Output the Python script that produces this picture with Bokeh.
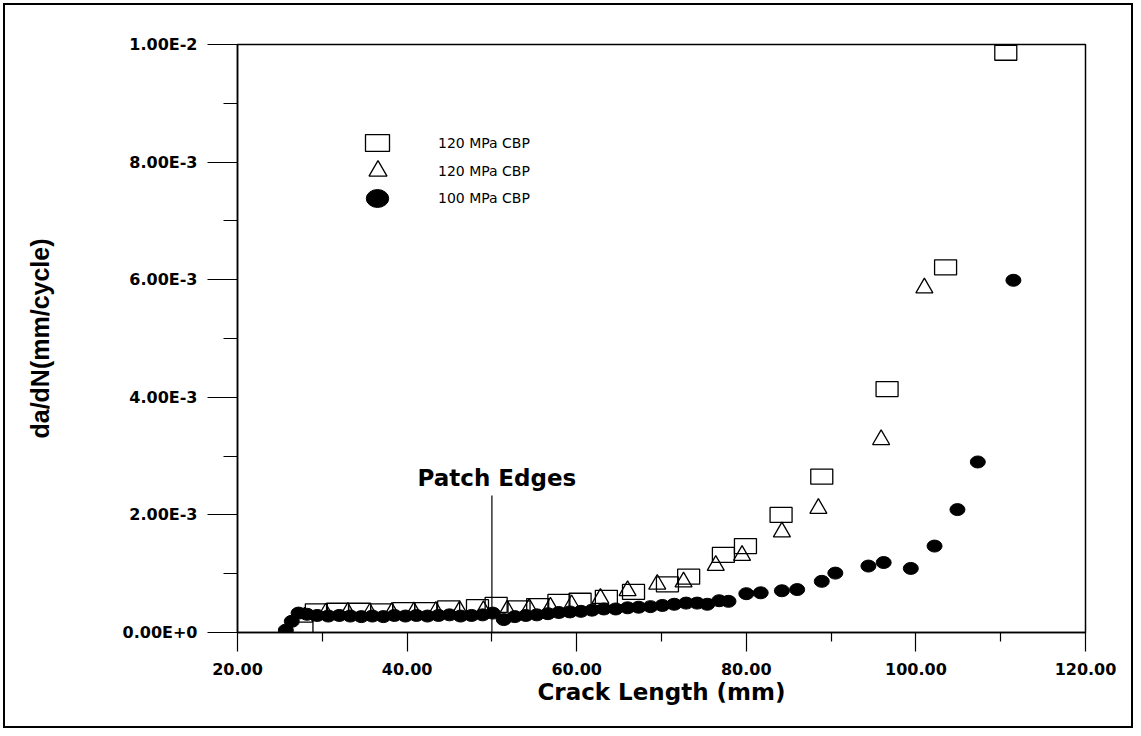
from bokeh.plotting import figure
from bokeh.models import Range1d, FixedTicker, Legend, LegendItem, Label
from bokeh.embed import file_html
from bokeh.resources import INLINE

# ---------------- data ----------------
series_labels = ["120 MPa CBP", "120 MPa CBP", "100 MPa CBP"]

sq_x = [27.6, 29.3, 31.8, 34.4, 37.0, 39.6, 42.2, 44.9, 48.3, 50.5, 53.2, 55.4, 57.9,
        60.4, 63.5, 66.7, 70.7, 73.2, 77.3, 79.9, 84.1, 88.9, 96.6, 103.5, 110.6]
sq_y = [0.12e-3, 0.36e-3, 0.37e-3, 0.37e-3, 0.36e-3, 0.38e-3, 0.38e-3, 0.41e-3, 0.43e-3,
        0.47e-3, 0.41e-3, 0.45e-3, 0.52e-3, 0.54e-3, 0.59e-3, 0.69e-3, 0.82e-3, 0.95e-3,
        1.32e-3, 1.47e-3, 2.00e-3, 2.65e-3, 4.14e-3, 6.21e-3, 9.86e-3]

tri_x = [27.9, 30.4, 33.0, 35.6, 38.2, 40.8, 43.4, 46.2, 49.0, 51.8, 54.4, 56.9, 59.4,
         62.8, 66.0, 69.5, 72.6, 76.4, 79.5, 84.2, 88.5, 95.9, 101.0]
tri_y = [0.26e-3, 0.33e-3, 0.34e-3, 0.33e-3, 0.34e-3, 0.35e-3, 0.36e-3, 0.37e-3, 0.37e-3,
         0.38e-3, 0.41e-3, 0.43e-3, 0.47e-3, 0.58e-3, 0.71e-3, 0.82e-3, 0.86e-3, 1.14e-3,
         1.31e-3, 1.71e-3, 2.11e-3, 3.28e-3, 5.86e-3]

cir_x = [25.7, 26.4, 27.2, 28.2, 29.4, 30.7, 32.0, 33.3, 34.6, 35.9, 37.2, 38.5, 39.8,
         41.1, 42.4, 43.7, 45.0, 46.3, 47.6, 48.9, 50.1, 51.4, 52.7, 54.0, 55.3, 56.6,
         57.9, 59.2, 60.5, 61.8, 63.2, 64.6, 66.0, 67.3, 68.7, 70.1, 71.5, 72.9, 74.2,
         75.4, 76.8, 77.9, 80.0, 81.7, 84.2, 86.0, 88.9, 90.5, 94.4, 96.2, 99.4, 102.2,
         104.9, 107.3, 111.5]
cir_y = [0.04e-3, 0.19e-3, 0.33e-3, 0.31e-3, 0.29e-3, 0.28e-3, 0.29e-3, 0.28e-3, 0.27e-3,
         0.28e-3, 0.27e-3, 0.29e-3, 0.28e-3, 0.29e-3, 0.28e-3, 0.29e-3, 0.30e-3, 0.28e-3,
         0.29e-3, 0.30e-3, 0.33e-3, 0.22e-3, 0.27e-3, 0.29e-3, 0.30e-3, 0.32e-3, 0.34e-3,
         0.35e-3, 0.36e-3, 0.38e-3, 0.40e-3, 0.40e-3, 0.42e-3, 0.43e-3, 0.44e-3, 0.46e-3,
         0.48e-3, 0.50e-3, 0.50e-3, 0.48e-3, 0.54e-3, 0.53e-3, 0.66e-3, 0.675e-3, 0.71e-3,
         0.73e-3, 0.87e-3, 1.01e-3, 1.13e-3, 1.19e-3, 1.09e-3, 1.47e-3, 2.09e-3, 2.90e-3,
         5.99e-3]

x_ticks = [20, 40, 60, 80, 100, 120]
x_tick_labels = ["20.00", "40.00", "60.00", "80.00", "100.00", "120.00"]
x_minor = [30, 50, 70, 90, 110]
y_ticks = [0, 0.002, 0.004, 0.006, 0.008, 0.01]
y_tick_labels = ["0.00E+0", "2.00E-3", "4.00E-3", "6.00E-3", "8.00E-3", "1.00E-2"]
y_minor = [0.001, 0.003, 0.005, 0.007, 0.009]

patch_x = [50]
patch_y0 = [0.0]
patch_y1 = [2.33e-3]
patch_label = "Patch Edges"
patch_label_y = 2.62e-3

x_title = "Crack Length (mm)"
y_title = "da/dN(mm/cycle)"

# ---------------- figure ----------------
p = figure(width=1130, height=725, x_range=Range1d(20, 120), y_range=Range1d(0, 0.01),
           output_backend="svg", toolbar_location=None,
           min_border_left=232, min_border_right=50, min_border_top=39, min_border_bottom=98)
p.styles = {"border": "2px solid black", "margin": "3px"}
p.xgrid.visible = False
p.ygrid.visible = False
p.outline_line_color = "black"
p.outline_line_width = 1.5
p.background_fill_color = "white"
p.border_fill_color = "white"

tick_font = "DejaVu Sans"

p.xaxis.ticker = FixedTicker(ticks=x_ticks, minor_ticks=x_minor)
p.xaxis.major_label_overrides = dict(zip(x_ticks, x_tick_labels))
p.yaxis.ticker = FixedTicker(ticks=y_ticks, minor_ticks=y_minor)
p.yaxis.major_label_overrides = dict(zip(y_ticks, y_tick_labels))

for ax in (p.xaxis[0], p.yaxis[0]):
    ax.axis_line_color = "black"
    ax.axis_line_width = 1.5
    ax.major_tick_line_color = "black"
    ax.minor_tick_line_color = "black"
    ax.major_tick_line_width = 1.2
    ax.minor_tick_line_width = 1.2
    ax.major_tick_in = 0
    ax.minor_tick_in = 0
    ax.major_label_text_font = tick_font
    ax.major_label_text_font_style = "bold"
    ax.major_label_text_font_size = "16px"
    ax.major_label_text_color = "black"
    ax.axis_label_text_color = "black"

p.xaxis.major_tick_out = 19
p.xaxis.minor_tick_out = 9
p.xaxis.major_label_standoff = 11
p.yaxis.major_tick_out = 30
p.yaxis.minor_tick_out = 14
p.yaxis.major_label_standoff = 10

p.xaxis.axis_label = x_title
p.xaxis.axis_label_text_font = "DejaVu Sans"
p.xaxis.axis_label_text_font_style = "bold"
p.xaxis.axis_label_text_font_size = "23px"
p.xaxis.axis_label_standoff = 1

p.yaxis.axis_label = y_title
p.yaxis.axis_label_text_font = "Liberation Sans"
p.yaxis.axis_label_text_font_style = "bold"
p.yaxis.axis_label_text_font_size = "25px"
p.yaxis.axis_label_standoff = 66

# ---------------- marks ----------------
r_sq = p.rect(sq_x, sq_y, width=22, height=15, width_units="screen", height_units="screen",
              fill_color=None, line_color="black", line_width=1.3)
r_tri = p.scatter(tri_x, tri_y, marker="triangle", size=17, fill_color=None,
                  line_color="black", line_width=1.3)
r_cir = p.ellipse(cir_x, cir_y, width=15, height=12, width_units="screen", height_units="screen",
                  fill_color="black", line_color="black")

p.segment(x0=patch_x, y0=patch_y0, x1=patch_x, y1=patch_y1, line_color="black", line_width=1.2)
p.add_layout(Label(x=patch_x[0], y=patch_label_y, text=patch_label, text_align="center",
                   text_baseline="middle", x_offset=5, text_font="DejaVu Sans",
                   text_font_style="bold", text_font_size="23px", text_color="black"))

# ---------------- legend (one Legend per entry for glyph sizing) ----------------
def make_legend(renderer, label, loc, gw, gh, standoff):
    return Legend(items=[LegendItem(label=label, renderers=[renderer])], location=loc,
                  glyph_width=gw, glyph_height=gh, label_height=gh, label_standoff=standoff,
                  padding=0, margin=0, spacing=0, border_line_color=None,
                  background_fill_alpha=0, label_text_font="DejaVu Sans",
                  label_text_font_size="14px", label_text_color="black")

p.add_layout(make_legend(r_sq, series_labels[0], (125, 479), 30, 21, 46))
p.add_layout(make_legend(r_tri, series_labels[1], (118, 439), 45, 45, 38))
p.add_layout(make_legend(r_cir, series_labels[2], (126, 420), 28, 28, 47))

open("out.html", "w").write(file_html(p, INLINE))
